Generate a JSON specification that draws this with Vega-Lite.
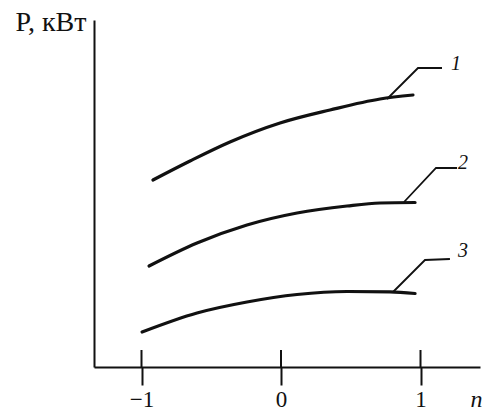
{
  "$schema": "https://vega.github.io/schema/vega-lite/v6.json",
  "width": 386,
  "height": 347,
  "autosize": "none",
  "padding": {"left": 94, "top": 20, "right": 9, "bottom": 44},
  "background": "white",
  "config": {"view": {"stroke": null}, "font": "Liberation Serif"},
  "datasets": {
    "curves": [
      {"curve": "1", "n": -0.918, "P": 1.87},
      {"curve": "1", "n": -0.652, "P": 2.06},
      {"curve": "1", "n": -0.366, "P": 2.25},
      {"curve": "1", "n": -0.007, "P": 2.44},
      {"curve": "1", "n": 0.351, "P": 2.57},
      {"curve": "1", "n": 0.71, "P": 2.68},
      {"curve": "1", "n": 0.946, "P": 2.72},
      {"curve": "2", "n": -0.946, "P": 1.01},
      {"curve": "2", "n": -0.602, "P": 1.24},
      {"curve": "2", "n": -0.244, "P": 1.42},
      {"curve": "2", "n": 0.115, "P": 1.54},
      {"curve": "2", "n": 0.473, "P": 1.61},
      {"curve": "2", "n": 0.71, "P": 1.64},
      {"curve": "2", "n": 0.961, "P": 1.645},
      {"curve": "3", "n": -0.996, "P": 0.35},
      {"curve": "3", "n": -0.602, "P": 0.54},
      {"curve": "3", "n": -0.244, "P": 0.65},
      {"curve": "3", "n": 0.115, "P": 0.725},
      {"curve": "3", "n": 0.473, "P": 0.755},
      {"curve": "3", "n": 0.781, "P": 0.752},
      {"curve": "3", "n": 0.961, "P": 0.735}
    ],
    "leaders": [
      {"curve": "1", "seq": 1, "n": 0.76, "P": 2.68},
      {"curve": "1", "seq": 2, "n": 0.982, "P": 2.99},
      {"curve": "1", "seq": 3, "n": 1.154, "P": 2.99},
      {"curve": "2", "seq": 1, "n": 0.882, "P": 1.65},
      {"curve": "2", "seq": 2, "n": 1.111, "P": 1.99},
      {"curve": "2", "seq": 3, "n": 1.262, "P": 1.99},
      {"curve": "3", "seq": 1, "n": 0.803, "P": 0.75},
      {"curve": "3", "seq": 2, "n": 1.032, "P": 1.07},
      {"curve": "3", "seq": 3, "n": 1.211, "P": 1.08}
    ],
    "labels": [
      {"curve": "1", "n": 1.254, "P": 3.03},
      {"curve": "2", "n": 1.305, "P": 2.04},
      {"curve": "3", "n": 1.305, "P": 1.16}
    ],
    "ticks": [
      {"n": -1},
      {"n": 0},
      {"n": 1}
    ]
  },
  "layer": [
    {
      "data": {"name": "curves"},
      "mark": {"type": "line", "interpolate": "monotone", "strokeWidth": 3.2, "color": "#111111", "strokeCap": "round"},
      "encoding": {
        "x": {
          "field": "n", "type": "quantitative",
          "scale": {"domain": [-1.3405, 1.4265], "nice": false, "zero": false},
          "axis": {
            "values": [-1, 0, 1], "format": "d", "grid": false,
            "tickSize": 18, "tickWidth": 2, "tickColor": "#111111",
            "domainWidth": 2, "domainColor": "#111111",
            "labelFontSize": 23, "labelColor": "#111111", "labelFont": "Liberation Serif",
            "labelBaseline": "alphabetic", "labelPadding": 21,
            "title": "n", "titleFontStyle": "italic", "titleFontWeight": "normal",
            "titleFontSize": 24, "titleColor": "#111111", "titleFont": "Liberation Serif",
            "titleX": 382, "titleY": 39, "titleAlign": "center", "titleBaseline": "alphabetic", "titleAnchor": null
          }
        },
        "y": {
          "field": "P", "type": "quantitative",
          "scale": {"domain": [0, 3.47], "nice": false, "zero": false},
          "axis": {
            "ticks": false, "labels": false, "grid": false,
            "domainWidth": 2, "domainColor": "#111111",
            "title": "P, кВт", "titleAngle": 0, "titleFontWeight": "normal",
            "titleFontSize": 28, "titleColor": "#111111", "titleFont": "Liberation Serif",
            "titleX": -79, "titleY": 10, "titleAlign": "left", "titleBaseline": "alphabetic", "titleAnchor": null
          }
        },
        "detail": {"field": "curve", "type": "nominal"}
      }
    },
    {
      "data": {"name": "leaders"},
      "mark": {"type": "line", "strokeWidth": 1.8, "color": "#111111"},
      "encoding": {
        "x": {"field": "n", "type": "quantitative"},
        "y": {"field": "P", "type": "quantitative"},
        "detail": {"field": "curve", "type": "nominal"},
        "order": {"field": "seq", "type": "quantitative"}
      }
    },
    {
      "data": {"name": "ticks"},
      "mark": {"type": "rule", "strokeWidth": 2, "color": "#111111"},
      "encoding": {
        "x": {"field": "n", "type": "quantitative"},
        "y": {"datum": 0},
        "y2": {"datum": 0.17}
      }
    },
    {
      "data": {"name": "labels"},
      "mark": {"type": "text", "fontStyle": "italic", "fontSize": 20, "font": "Liberation Serif", "color": "#111111", "align": "center", "baseline": "middle"},
      "encoding": {
        "x": {"field": "n", "type": "quantitative"},
        "y": {"field": "P", "type": "quantitative"},
        "text": {"field": "curve", "type": "nominal"}
      }
    }
  ]
}
